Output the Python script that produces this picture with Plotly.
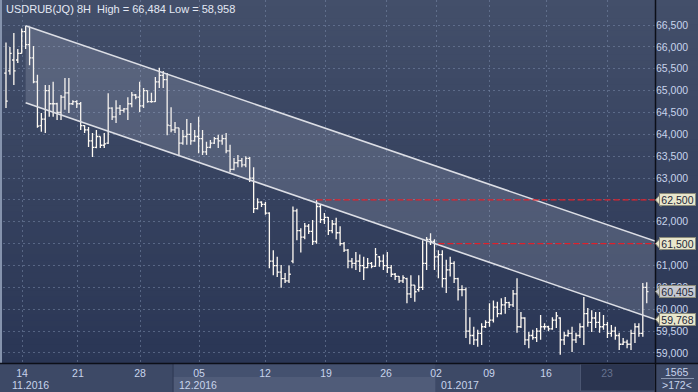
import plotly.graph_objects as go

title_text = "USDRUB(JQ) 8H  High = 66,484 Low = 58,958"

opens = [
65.40,65.45,65.70,65.70,65.85,66.35,66.05,65.75,65.20,64.20,
64.35,65.00,64.70,64.70,64.50,64.85,64.95,64.70,64.75,64.70,
64.20,64.10,63.85,63.70,63.95,63.75,63.80,64.60,64.40,64.60,
64.55,64.58,64.70,64.90,64.85,64.65,65.00,64.75,64.75,65.20,
65.35,65.25,64.20,64.10,64.15,63.80,63.95,64.00,63.85,63.95,
63.90,63.60,63.70,63.80,63.90,63.85,63.90,63.62,63.20,63.35,
63.40,63.30,63.45,63.00,62.30,62.45,62.40,62.20,61.10,61.00,
60.85,60.70,60.65,61.10,62.25,61.80,61.65,61.90,61.78,61.55,
62.35,62.05,62.10,61.80,61.95,61.75,61.50,61.35,61.10,61.05,
61.10,61.00,60.95,61.05,60.98,61.20,61.10,61.00,60.95,60.80,
60.75,60.65,60.70,60.35,60.55,60.45,60.50,61.05,61.60,61.55,
61.20,61.25,60.70,60.90,61.05,60.70,60.45,60.45,59.50,59.40,
59.30,59.45,59.60,59.70,59.75,60.05,59.90,60.10,60.15,60.10,
60.35,59.60,59.80,59.30,59.40,59.35,59.50,59.60,59.60,59.55,
59.75,59.80,59.30,59.40,59.45,59.30,59.40,59.60,59.90,59.70,
59.80,59.70,59.60,59.65,59.45,59.50,59.40,59.20,59.25,59.20,
59.45,59.60,59.45,60.50]

highs = [
66.10,66.00,66.32,65.95,66.42,66.484,66.46,66.02,65.36,64.49,
65.13,65.13,65.20,64.72,64.90,65.29,65.29,64.78,64.78,64.74,
64.21,64.17,64.03,64.10,63.95,64.03,64.94,64.62,64.78,64.67,
64.60,64.85,64.97,64.92,65.20,65.06,65.00,64.95,65.31,65.52,
65.45,65.40,64.62,64.28,64.15,64.10,64.35,64.26,64.10,64.40,
64.10,63.83,63.87,63.94,63.99,63.99,64.03,63.76,63.46,63.53,
63.46,63.50,63.48,63.25,62.54,62.47,62.45,62.22,61.35,61.20,
61.01,60.83,61.00,62.35,62.30,61.85,61.97,61.95,62.04,62.50,
62.40,62.20,62.11,62.04,62.09,61.90,61.54,61.38,61.17,61.31,
61.25,61.20,61.17,61.08,61.40,61.22,61.25,61.31,61.01,60.83,
60.76,60.78,60.72,60.78,60.55,60.78,61.58,61.65,61.74,61.60,
61.35,61.35,61.13,61.20,61.10,60.72,60.55,60.50,59.82,59.60,
59.53,59.68,59.75,60.14,60.20,60.17,60.25,60.28,60.17,60.44,
60.71,59.94,59.82,59.48,59.53,59.57,59.87,59.68,59.62,59.82,
59.94,59.82,59.48,59.53,59.60,59.46,59.68,60.28,60.03,59.98,
59.94,59.94,59.87,59.71,59.64,59.60,59.46,59.34,59.30,59.53,
59.68,59.68,60.60,60.62]

lows = [
64.60,65.36,65.13,65.63,65.85,65.95,65.58,65.17,64.15,64.06,
64.03,64.40,64.40,64.33,64.33,64.56,64.49,64.67,64.60,64.10,
64.03,63.71,63.48,63.68,63.69,63.69,63.78,64.33,64.26,64.44,
64.50,64.33,64.62,64.80,64.51,64.60,64.72,64.72,64.74,65.06,
65.06,63.98,64.05,64.03,63.53,63.76,63.76,63.76,63.83,63.57,
63.53,63.53,63.68,63.78,63.69,63.76,63.57,63.14,63.18,63.25,
63.25,63.25,62.91,62.20,62.28,62.34,62.16,60.94,60.78,60.74,
60.49,60.60,60.60,61.05,61.58,61.30,61.60,61.72,61.47,61.50,
61.97,61.95,61.70,61.74,61.60,61.45,61.31,60.94,60.94,60.90,
60.85,60.67,60.94,60.94,60.97,60.97,60.90,60.83,60.74,60.67,
60.60,60.60,60.14,60.26,60.17,60.40,60.44,60.90,61.47,60.90,
60.71,60.50,60.37,60.75,60.60,60.20,60.30,59.34,59.20,59.18,
59.14,59.18,59.57,59.60,59.70,59.82,59.88,59.90,60.03,60.05,
59.46,59.57,59.18,59.11,59.30,59.25,59.30,59.53,59.50,59.53,
59.57,58.958,59.18,59.37,59.02,59.23,59.34,59.18,59.60,59.48,
59.57,59.46,59.53,59.34,59.37,59.30,59.07,59.18,59.11,59.07,
59.23,59.37,59.37,60.14]

closes = [
64.76,65.85,65.45,65.85,66.35,66.05,65.75,65.20,64.19,64.35,
65.00,64.70,64.70,64.50,64.85,64.95,64.70,64.75,64.70,64.20,
64.10,63.85,63.70,63.95,63.75,63.78,64.60,64.40,64.60,64.55,
64.58,64.70,64.90,64.85,64.65,65.00,64.75,64.75,65.20,65.35,
65.25,64.21,64.10,64.15,63.80,63.95,64.00,63.85,63.95,63.90,
63.60,63.70,63.80,63.90,63.85,63.90,63.62,63.20,63.35,63.40,
63.30,63.45,63.00,62.30,62.45,62.40,62.20,61.10,61.00,60.85,
60.70,60.65,60.80,62.25,61.80,61.65,61.90,61.78,61.55,62.35,
62.05,62.10,61.80,61.95,61.75,61.50,61.35,61.10,61.05,61.10,
61.00,60.95,61.05,60.98,61.25,61.10,61.00,60.95,60.80,60.75,
60.65,60.72,60.35,60.55,60.40,60.50,61.05,61.60,61.55,61.20,
61.25,60.70,60.90,61.05,60.70,60.45,60.45,59.50,59.40,59.30,
59.45,59.60,59.70,59.75,60.05,59.90,60.10,60.15,60.10,60.35,
59.60,59.80,59.30,59.40,59.35,59.50,59.60,59.60,59.55,59.75,
59.85,59.30,59.40,59.45,59.30,59.40,59.60,59.90,59.70,59.80,
59.70,59.60,59.65,59.45,59.50,59.40,59.20,59.25,59.20,59.45,
59.60,59.45,60.50,60.405]

day_tick_idx = [4.1, 18.3, 34.1, 49.1, 65.9, 81.4, 96.7, 109.4, 122.9, 137.4, 152.9]
day_tick_text = ["14", "21", "28", "05", "12", "19", "26", "02", "09", "16", "23"]
month_labels = ["11.2016", "12.2016", "01.2017"]
month_start_idx = [0.0, 42.5, 109.2]

price_ticks = [59.0, 59.5, 60.0, 60.5, 61.0, 61.5, 62.0, 62.5,
               63.0, 63.5, 64.0, 64.5, 65.0, 65.5, 66.0, 66.5]
price_tick_text = ["59,000", "59,500", "60,000", "60,500", "61,000", "61,500", "62,000", "62,500",
                   "63,000", "63,500", "64,000", "64,500", "65,000", "65,500", "66,000", "66,500"]

channel_idx = [5.0, 165.1]
channel_upper = [66.484, 61.56]
channel_lower = [64.72, 59.77]

level_prices = [62.5, 61.5]
level_start_idx = [79.0, 110.0]

marker_prices = [62.5, 61.5, 60.405, 59.768]
marker_texts = ["62,500", "61,500", "60,405", "59,768"]
marker_bg = ["#e8e6cc", "#e8e6cc", "#c6c9d1", "#e8e6cc"]

corner_texts = ["1565", ">172<"]

# ---------------- layout geometry ----------------
W, H = 698, 392
ML, MR, MT, MB = 3, 43, 0, 29
PW, PH = W - ML - MR, H - MT - MB
X0, X1 = -0.76, 165.1
Y0, Y1 = 58.771, 67.072


def xp(px):
    return (px - ML) / PW


def yp(py):
    return (H - MB - py) / PH


def ix(i):
    return (i - X0) / (X1 - X0)


TXT = "#c8d4ec"
FONT = "Liberation Sans, Arial, sans-serif"

fig = go.Figure()

# channel
fig.add_trace(go.Scatter(
    x=[channel_idx[0], channel_idx[1], channel_idx[1], channel_idx[0], channel_idx[0]],
    y=[channel_upper[0], channel_upper[1], channel_lower[1], channel_lower[0], channel_upper[0]],
    mode="lines", fill="toself", fillcolor="rgba(200,205,222,0.19)",
    line=dict(width=0), hoverinfo="skip", showlegend=False))
for ys in (channel_upper, channel_lower):
    fig.add_trace(go.Scatter(x=channel_idx, y=ys, mode="lines",
                             line=dict(color="#dcdee5", width=1.6),
                             hoverinfo="skip", showlegend=False))

# red level lines
for lp, ls in zip(level_prices, level_start_idx):
    fig.add_trace(go.Scatter(x=[ls, X1], y=[lp, lp], mode="lines",
                             line=dict(color="#e0202a", width=1.3, dash="6px,3px"),
                             hoverinfo="skip", showlegend=False))

fig.add_trace(go.Ohlc(
    x=list(range(len(opens))), open=opens, high=highs, low=lows, close=closes,
    increasing=dict(line=dict(color="#fffaf2", width=1.3)),
    decreasing=dict(line=dict(color="#fffaf2", width=1.3)),
    tickwidth=0.45, showlegend=False, hoverinfo="skip"))

shapes = []
# background gradient
top = (67, 79, 106)
bot = (42, 54, 85)
n = 60
for k in range(n):
    t = (k + 0.5) / n
    c = tuple(round(top[j] + (bot[j] - top[j]) * t) for j in range(3))
    shapes.append(dict(type="rect", xref="paper", yref="paper", layer="below",
                       x0=xp(0), x1=xp(W), y0=1 - (k + 1) / n - 0.002, y1=1 - k / n,
                       line=dict(width=0), fillcolor="rgb(%d,%d,%d)" % c))
# left light strip
shapes.append(dict(type="rect", xref="paper", yref="paper", layer="above",
                   x0=xp(0), x1=xp(2), y0=yp(PH), y1=yp(0),
                   line=dict(width=0), fillcolor="#8593ad"))
# month band (December) in the axis area
shapes.append(dict(type="rect", xref="paper", yref="paper", layer="below",
                   x0=ix(month_start_idx[1]), x1=ix(month_start_idx[2]), y0=yp(392), y1=yp(363),
                   line=dict(width=0), fillcolor="#44516f"))
shapes.append(dict(type="rect", xref="paper", yref="paper", layer="below",
                   x0=ix(month_start_idx[1]), x1=ix(month_start_idx[2]), y0=yp(392), y1=yp(377),
                   line=dict(width=0), fillcolor="#505c79"))
shapes.append(dict(type="line", xref="paper", yref="paper", layer="below",
                   x0=ix(month_start_idx[1]), x1=ix(month_start_idx[1]), y0=yp(392), y1=yp(363),
                   line=dict(color="#2e3852", width=1)))
# dark region at right end of time axis
shapes.append(dict(type="rect", xref="paper", yref="paper", layer="below",
                   x0=xp(580.5), x1=xp(655), y0=yp(391), y1=yp(364),
                   line=dict(color="#4b5672", width=1), fillcolor="#2b3550"))
# black frame lines
shapes.append(dict(type="line", xref="paper", yref="paper", layer="above",
                   x0=xp(0), x1=xp(W), y0=yp(363.5), y1=yp(363.5),
                   line=dict(color="#0c0f18", width=1.5)))
shapes.append(dict(type="line", xref="paper", yref="paper", layer="above",
                   x0=xp(655.5), x1=xp(655.5), y0=yp(H), y1=yp(0),
                   line=dict(color="#0c0f18", width=1.5)))
# corner separator
shapes.append(dict(type="line", xref="paper", yref="paper", layer="above",
                   x0=xp(661), x1=xp(694), y0=yp(378.5), y1=yp(378.5),
                   line=dict(color="#8a97b0", width=1)))
# marker arrows
for mp, bg in zip(marker_prices, marker_bg):
    dy = 6.5 / (PH / (Y1 - Y0))
    x_tip, x_base = xp(655.5), xp(661)
    shapes.append(dict(type="path", xref="paper", yref="y", layer="above",
                       path="M %f,%f L %f,%f L %f,%f Z" % (x_tip, mp, x_base, mp + dy, x_base, mp - dy),
                       fillcolor=bg, line=dict(color="#8c8c7a", width=1)))

annotations = []
annotations.append(dict(text=title_text, xref="paper", yref="paper", x=xp(4), y=yp(9.5),
                        xanchor="left", yanchor="middle", showarrow=False,
                        font=dict(family=FONT, size=11, color="#e4e9f4")))
for lab, st in zip(month_labels, month_start_idx):
    annotations.append(dict(text=lab, xref="x", yref="paper", x=st, xshift=4, y=yp(384.5),
                            xanchor="left", yanchor="middle", showarrow=False,
                            font=dict(family=FONT, size=10.5, color=TXT)))
for mp, mt, bg in zip(marker_prices, marker_texts, marker_bg):
    annotations.append(dict(text=mt, xref="paper", yref="y", x=xp(659), y=mp,
                            xanchor="left", yanchor="middle", showarrow=False,
                            bgcolor=bg, bordercolor="#8c8c7a", borderwidth=1, borderpad=0,
                            width=35, height=11, align="center",
                            font=dict(family=FONT, size=10.5, color="#1e2638")))
for ct, py in zip(corner_texts, [371.5, 385]):
    annotations.append(dict(text=ct, xref="paper", yref="paper", x=xp(677), y=yp(py),
                            xanchor="center", yanchor="middle", showarrow=False,
                            font=dict(family=FONT, size=10.5, color=TXT)))

tick_text_fmt = [t if i < len(day_tick_text) - 1 else '<span style="color:#66728f">%s</span>' % t
                 for i, t in enumerate(day_tick_text)]
# tick labels hidden under the level boxes in the original are left blank
price_tick_shown = ["" if p in marker_prices else t for p, t in zip(price_ticks, price_tick_text)]

fig.update_layout(
    width=W, height=H,
    margin=dict(l=ML, r=MR, t=MT, b=MB, pad=0),
    paper_bgcolor="#3d4966", plot_bgcolor="rgba(0,0,0,0)",
    shapes=shapes, annotations=annotations,
    showlegend=False,
    xaxis=dict(range=[X0, X1], tickvals=day_tick_idx, ticktext=tick_text_fmt,
               showgrid=True, gridcolor="rgba(120,136,168,0.55)", griddash="2px,3px", gridwidth=1,
               zeroline=False, showline=False, ticks="", ticklen=0, ticklabelstandoff=2,
               tickfont=dict(family=FONT, size=10.5, color=TXT),
               rangeslider=dict(visible=False), fixedrange=True),
    yaxis=dict(range=[Y0, Y1], side="right", tickvals=price_ticks, ticktext=price_tick_shown,
               showgrid=True, gridcolor="rgba(120,136,168,0.55)", griddash="2px,3px", gridwidth=1,
               zeroline=False, showline=False, ticks="", ticklen=0,
               tickfont=dict(family=FONT, size=10.5, color=TXT), fixedrange=True),
)

fig.write_html("out.html", config={"displayModeBar": False, "staticPlot": True},
               post_script="document.body.style.margin='0';document.body.style.overflow='hidden';")
